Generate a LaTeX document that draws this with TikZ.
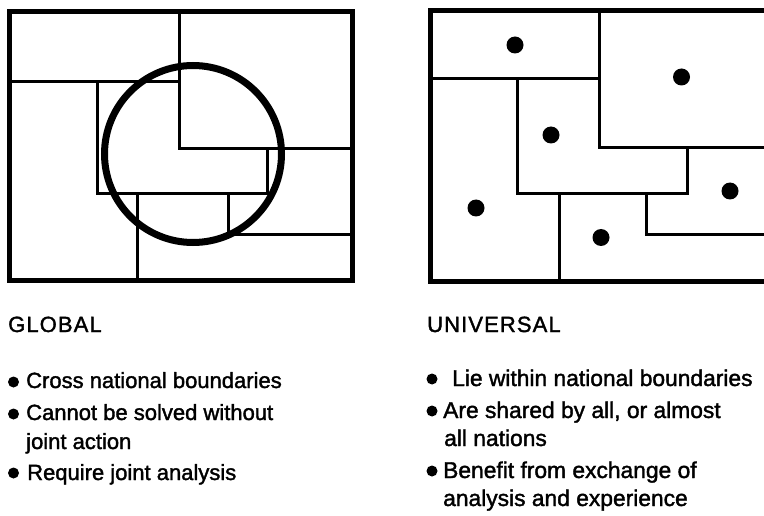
\documentclass[tikz,border=0pt]{standalone}
\usepackage{fontspec}
\setmainfont[FakeBold=1.6]{Liberation Sans}
\begin{document}
\begin{tikzpicture}[x=1pt,y=-1pt,
  frame/.style={line width=5pt, line join=miter},
  border/.style={line width=3pt, line join=miter},
  ring/.style={line width=7pt},
  spot/.style={fill=black},
  txt/.style={anchor=base west, inner sep=0pt, font=\fontsize{22}{26}\selectfont},
  txtr/.style={anchor=base west, inner sep=0pt, font=\fontsize{22.8}{26}\selectfont},
  head/.style={anchor=base west, inner sep=0pt, font=\fontsize{22}{26}\selectfont\addfontfeature{LetterSpace=5}},
  bul/.style={circle, fill=black, inner sep=0pt, minimum size=11pt}]
\useasboundingbox (0,0) rectangle (764,516);
% ---------- GLOBAL figure ----------
\draw[border] (9,82) -- (179,82);
\draw[border] (179,12) -- (179,149) -- (352,149);
\draw[border] (97,82) -- (97,194) -- (267,194) -- (267,149);
\draw[border] (137,194) -- (137,280);
\draw[border] (228,194) -- (228,235) -- (352,235);
\draw[frame] (9,12) rectangle (352,280);
\draw[ring] (193,154) circle[radius=88.5pt];
% ---------- UNIVERSAL figure ----------
\draw[border] (430,79) -- (599,79);
\draw[border] (599,11) -- (599,148) -- (775,148);
\draw[border] (517,79) -- (517,194) -- (687,194) -- (687,148);
\draw[border] (559,194) -- (559,281);
\draw[border] (646,194) -- (646,235) -- (775,235);
\draw[frame] (775,11) -- (430,11) -- (430,281) -- (775,281);
\fill[spot] (515,45) circle[radius=8.5pt];
\fill[spot] (681.5,77) circle[radius=8.5pt];
\fill[spot] (551,135) circle[radius=8.5pt];
\fill[spot] (730,191) circle[radius=8.5pt];
\fill[spot] (476,208) circle[radius=8.5pt];
\fill[spot] (601,237.5) circle[radius=8.5pt];
% ---------- GLOBAL text ----------
\node[head] (gt) at (8,332) {GLOBAL};
\node[bul] (gb1) at (13.5,382) {};
\node[txt] (g1) at (26,388) {Cross national boundaries};
\node[bul] (gb2) at (13.5,414) {};
\node[txt] (g2) at (26,420) {Cannot be solved without};
\node[txt] (g3) at (26,449) {joint action};
\node[bul] (gb3) at (13.5,473) {};
\node[txt] (g4) at (27,480) {Require joint analysis};
% ---------- UNIVERSAL text ----------
\node[head] (ut) at (427,332) {UNIVERSAL};
\node[bul] (ub1) at (432,379) {};
\node[txtr] (u1) at (452,386) {Lie within national boundaries};
\node[bul] (ub2) at (432,411) {};
\node[txtr] (u2) at (443,418) {Are shared by all, or almost};
\node[txtr] (u3) at (444,446) {all nations};
\node[bul] (ub3) at (432,471) {};
\node[txtr] (u4) at (443,478) {Benefit from exchange of};
\node[txtr] (u5) at (443,506) {analysis and experience};
\end{tikzpicture}
\end{document}
